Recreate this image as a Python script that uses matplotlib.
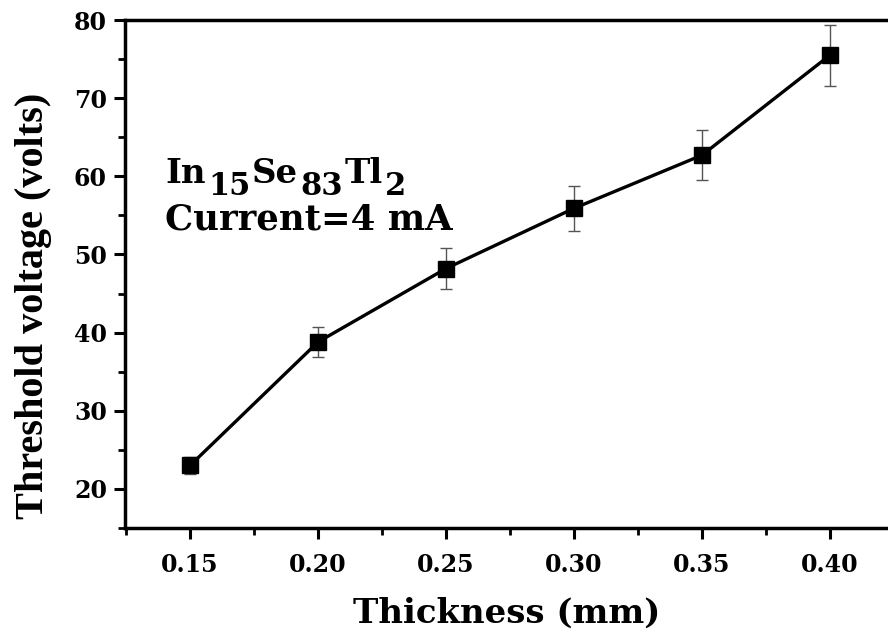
import matplotlib
matplotlib.use("Agg")
import matplotlib.pyplot as plt
from matplotlib.ticker import MultipleLocator
from matplotlib.transforms import offset_copy

thickness = [0.15, 0.20, 0.25, 0.30, 0.35, 0.40]
voltage = [23.0, 38.8, 48.2, 55.9, 62.7, 75.5]
error = [1.1, 1.9, 2.6, 2.85, 3.2, 3.9]
tick_labels = ['0.15', '0.20', '0.25', '0.30', '0.35', '0.40']
formula_parts = [('In', False), ('15', True), ('Se', False), ('83', True),
                 ('Tl', False), ('2', True)]

plt.rcParams['font.family'] = ['DejaVu Serif']

fig = plt.figure(figsize=(8.88, 6.37), dpi=100)
ax = fig.add_axes([0.1408, 0.1711, 0.8592, 0.7975])

ax.errorbar(thickness, voltage, yerr=error, color='black', lw=2.4,
            marker='s', ms=12, mfc='black', mec='black',
            ecolor='#555555', elinewidth=1.0, capsize=4, capthick=1.0)

ax.set_xlim(0.1246, 0.4227)
ax.set_ylim(15, 80)
ax.xaxis.set_minor_locator(MultipleLocator(0.025))
ax.yaxis.set_major_locator(MultipleLocator(10))
ax.yaxis.set_minor_locator(MultipleLocator(5))
ax.set_xticks(thickness)
ax.set_xticklabels(tick_labels)

for s in ['left', 'bottom', 'top']:
    ax.spines[s].set_linewidth(2.5)
ax.spines['right'].set_visible(False)
ax.tick_params(which='major', direction='out', length=8, width=2.2,
               labelsize=17)
ax.tick_params(axis='x', which='major', pad=10)
ax.tick_params(axis='y', which='major', pad=5)
ax.tick_params(which='minor', direction='out', length=5, width=2.0)
ax.tick_params(top=False, right=False)
for lab in ax.get_xticklabels() + ax.get_yticklabels():
    lab.set_fontweight('bold')

ax.set_xlabel('Thickness (mm)', fontsize=24.5, fontweight='bold', labelpad=14)
ax.set_ylabel('Threshold voltage (volts)', fontsize=29, fontweight='bold',
              family='Liberation Serif')
ax.yaxis.set_label_coords(-0.096, 0.437)

# formula with large subscripts
renderer = fig.canvas.get_renderer()
xoff = 0.0
for txt, is_sub in formula_parts:
    tr = offset_copy(ax.transAxes, fig=fig, x=xoff, y=(-12 if is_sub else 0),
                     units='dots')
    t = ax.text(0.053, 0.679, txt, transform=tr, fontsize=(22 if is_sub else 24.5),
                fontweight='bold', ha='left', va='baseline')
    bb = t.get_window_extent(renderer)
    xoff += bb.width + 2

ax.text(0.053, 0.587, 'Current=4 mA', transform=ax.transAxes,
        fontsize=25.5, fontweight='bold', ha='left', va='baseline')

fig.savefig('out.png', dpi=100)
